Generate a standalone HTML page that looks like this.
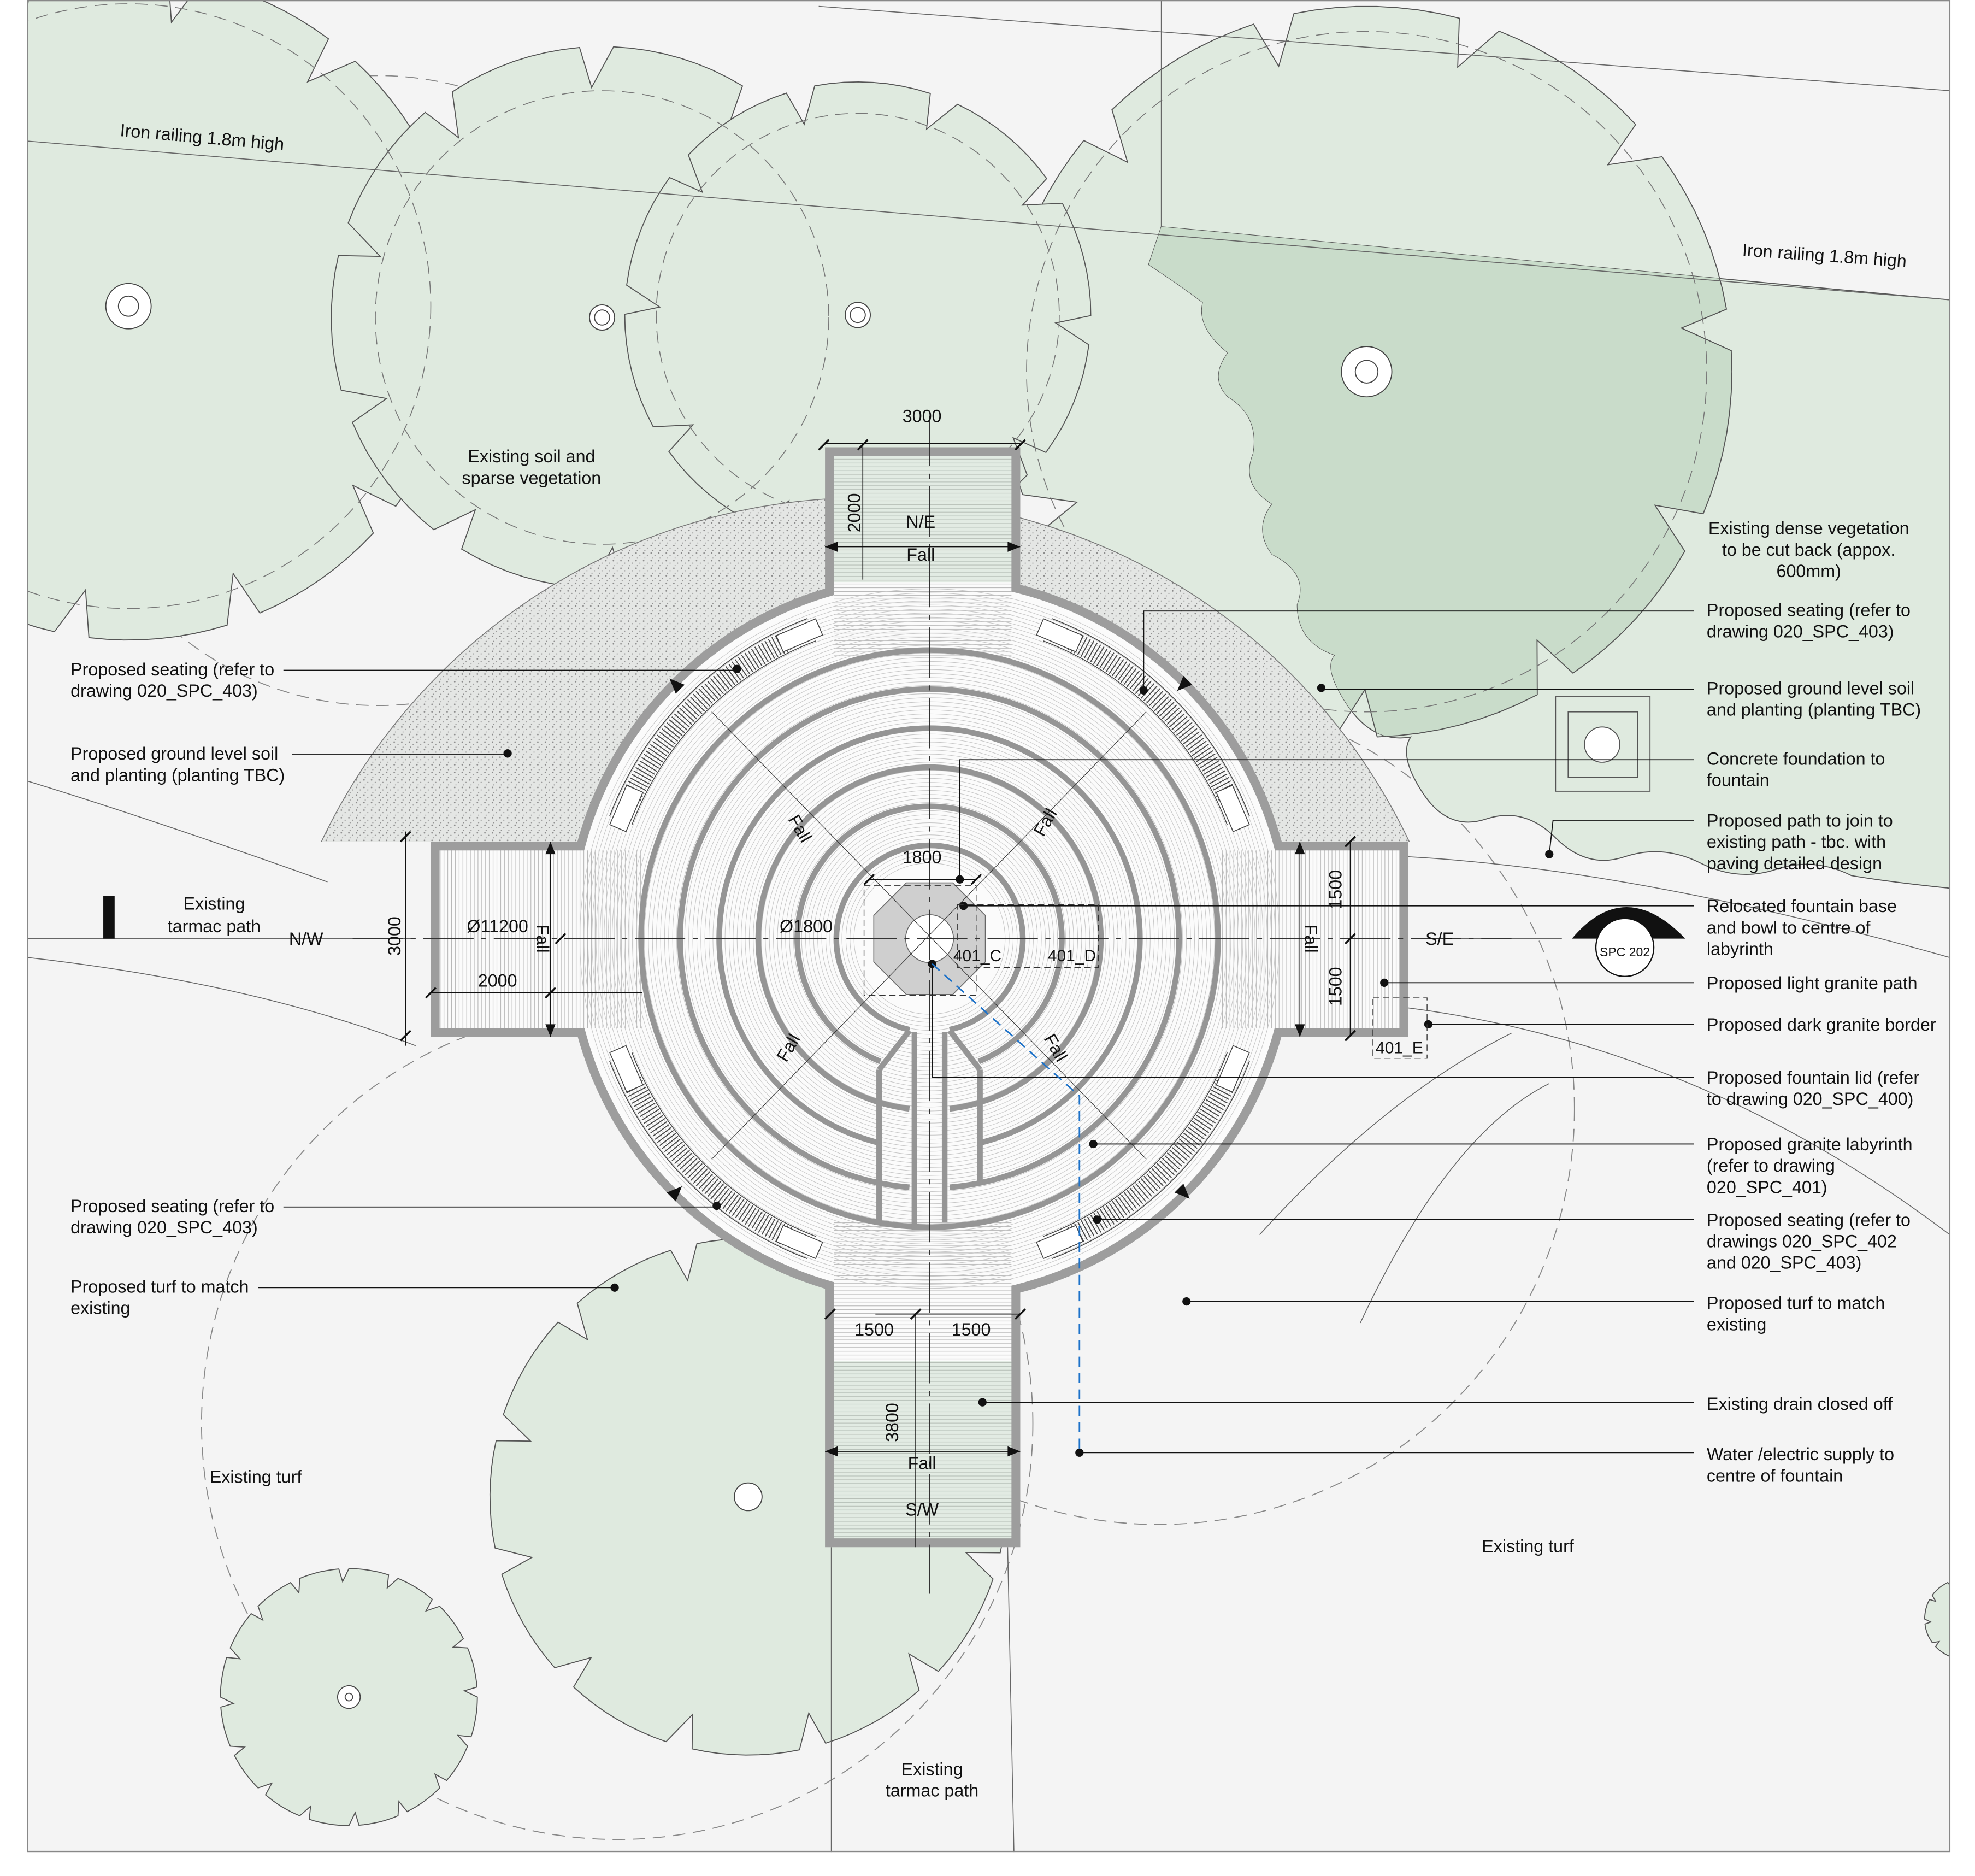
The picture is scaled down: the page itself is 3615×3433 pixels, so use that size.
<!DOCTYPE html>
<html><head><meta charset="utf-8">
<style>
html,body{margin:0;padding:0;background:#fff;}
svg{display:block;}
text{font-family:"Liberation Sans",Arial,sans-serif;font-size:14px;fill:#111;}
.c{text-anchor:middle;}
</style></head>
<body>
<svg id="s" width="3615" height="3433" viewBox="0 0 1568 1489" preserveAspectRatio="none" xmlns="http://www.w3.org/2000/svg">
<defs id="defs">
<pattern id="stip" width="6" height="6" patternUnits="userSpaceOnUse">
<rect width="6" height="6" fill="#e4e6e4"/>
<circle cx="1" cy="1" r="0.6" fill="#8a8a8a"/><circle cx="4" cy="3" r="0.5" fill="#999"/><circle cx="2" cy="5" r="0.45" fill="#8f8f8f"/>
</pattern>
<pattern id="hs" width="4" height="3" patternUnits="userSpaceOnUse">
<rect width="4" height="3" fill="#fbfbfb"/><line x1="0" y1="1.5" x2="4" y2="1.5" stroke="#b8b8b8" stroke-width="0.5"/>
</pattern>
<pattern id="vs" width="3" height="4" patternUnits="userSpaceOnUse">
<rect width="3" height="4" fill="#fbfbfb"/><line x1="1.5" y1="0" x2="1.5" y2="4" stroke="#b8b8b8" stroke-width="0.5"/>
</pattern>
<clipPath id="frame"><rect x="22" y="0" width="1526" height="1470"/></clipPath>
<clipPath id="top668"><rect x="0" y="0" width="1568" height="668"/></clipPath>
</defs>
<rect x="22" y="0" width="1526" height="1470" fill="#f4f4f4"/>
<g id="trees" clip-path="url(#frame)"></g>
<g id="lab"></g>
<g id="anno" stroke="#111" stroke-width="0.8" fill="none"></g>
<rect x="22" y="0.5" width="1526" height="1469" fill="none" stroke="#888" stroke-width="1"/>

<text x="95" y="108" transform="rotate(5 95 108)">Iron railing 1.8m high</text>
<text x="1383" y="203" transform="rotate(4 1383 203)">Iron railing 1.8m high</text>
<text x="422" y="367" class="c">Existing soil and</text>
<text x="422" y="384" class="c">sparse vegetation</text>
<text x="1436" y="424" class="c">Existing dense vegetation</text>
<text x="1436" y="441" class="c">to be cut back (appox.</text>
<text x="1436" y="458" class="c">600mm)</text>

<text x="56" y="536">Proposed seating (refer to</text>
<text x="56" y="553">drawing 020_SPC_403)</text>
<text x="56" y="603">Proposed ground level soil</text>
<text x="56" y="620">and planting (planting TBC)</text>
<text x="170" y="722" class="c">Existing</text>
<text x="170" y="740" class="c">tarmac path</text>
<text x="56" y="962">Proposed seating (refer to</text>
<text x="56" y="979">drawing 020_SPC_403)</text>
<text x="56" y="1026">Proposed turf to match</text>
<text x="56" y="1043">existing</text>
<text x="203" y="1177" class="c">Existing turf</text>
<text x="740" y="1409" class="c">Existing</text>
<text x="740" y="1426" class="c">tarmac path</text>
<text x="1213" y="1232" class="c">Existing turf</text>

<text x="1355" y="489">Proposed seating (refer to</text>
<text x="1355" y="506">drawing 020_SPC_403)</text>
<text x="1355" y="551">Proposed ground level soil</text>
<text x="1355" y="568">and planting (planting TBC)</text>
<text x="1355" y="607">Concrete foundation to</text>
<text x="1355" y="624">fountain</text>
<text x="1355" y="656">Proposed path to join to</text>
<text x="1355" y="673">existing path - tbc. with</text>
<text x="1355" y="690">paving detailed design</text>
<text x="1355" y="724">Relocated fountain base</text>
<text x="1355" y="741">and bowl to centre of</text>
<text x="1355" y="758">labyrinth</text>
<text x="1355" y="785">Proposed light granite path</text>
<text x="1355" y="818">Proposed dark granite border</text>
<text x="1355" y="860">Proposed fountain lid (refer</text>
<text x="1355" y="877">to drawing 020_SPC_400)</text>
<text x="1355" y="913">Proposed granite labyrinth</text>
<text x="1355" y="930">(refer to drawing</text>
<text x="1355" y="947">020_SPC_401)</text>
<text x="1355" y="973">Proposed seating (refer to</text>
<text x="1355" y="990">drawings 020_SPC_402</text>
<text x="1355" y="1007">and 020_SPC_403)</text>
<text x="1355" y="1039">Proposed turf to match</text>
<text x="1355" y="1056">existing</text>
<text x="1355" y="1119">Existing drain closed off</text>
<text x="1355" y="1159">Water /electric supply to</text>
<text x="1355" y="1176">centre of fountain</text>

<text x="732" y="335" class="c">3000</text>
<text x="683" y="407" class="c" transform="rotate(-90 683 407)">2000</text>
<text x="731" y="419" class="c">N/E</text>
<text x="731" y="445" class="c">Fall</text>
<text x="732" y="685" class="c">1800</text>
<text x="395" y="740" class="c">Ø11200</text>
<text x="640" y="740" class="c">Ø1800</text>
<text x="243" y="750" class="c">N/W</text>
<text x="318" y="743" class="c" transform="rotate(-90 318 743)">3000</text>
<text x="395" y="783" class="c">2000</text>
<text x="426" y="745" class="c" transform="rotate(90 426 745)">Fall</text>
<text x="776" y="763" class="c" style="font-size:13px">401_C</text>
<text x="851" y="763" class="c" style="font-size:13px">401_D</text>
<text x="1065" y="706" class="c" transform="rotate(-90 1065 706)">1500</text>
<text x="1065" y="783" class="c" transform="rotate(-90 1065 783)">1500</text>
<text x="1036" y="745" class="c" transform="rotate(90 1036 745)">Fall</text>
<text x="1143" y="750" class="c">S/E</text>
<text x="1111" y="836" class="c" style="font-size:13px">401_E</text>
<text x="1290" y="759" class="c" style="font-size:10px">SPC 202</text>
<text x="694" y="1060" class="c">1500</text>
<text x="771" y="1060" class="c">1500</text>
<text x="713" y="1129" class="c" transform="rotate(-90 713 1129)">3800</text>
<text x="732" y="1166" class="c">Fall</text>
<text x="732" y="1203" class="c">S/W</text>
<text x="631" y="660" class="c" transform="rotate(60 631 660)">Fall</text>
<text x="834" y="655" class="c" transform="rotate(-60 834 655)">Fall</text>
<text x="630" y="834" class="c" transform="rotate(-60 630 834)">Fall</text>
<text x="834" y="834" class="c" transform="rotate(60 834 834)">Fall</text>
</svg>
<script>
(function(){
var NS="http://www.w3.org/2000/svg";
function el(p,t,a){var e=document.createElementNS(NS,t);for(var k in a)e.setAttribute(k,a[k]);p.appendChild(e);return e;}
var T=document.getElementById('trees'),L=document.getElementById('lab'),A=document.getElementById('anno'),D=document.getElementById('defs');
var cx=738,cy=745;
function treePath(x,y,r,n,rot,d){var s=2*Math.PI/n,p=[];for(var i=0;i<n;i++){var a0=rot+i*s;for(var j=0;j<=8;j++){var a=a0+0.8*s*j/8;var rr=r*(1-0.04*Math.sin(Math.PI*j/8)*0);p.push([x+rr*Math.cos(a),y+rr*Math.sin(a)]);}var an=a0+0.86*s;p.push([x+r*(1-d)*Math.cos(an),y+r*(1-d)*Math.sin(an)]);}
return 'M'+p.map(function(q){return q[0].toFixed(1)+','+q[1].toFixed(1)}).join('L')+'Z';}
var tf='#dfeadf',ts='#555';
[[490,1130,330],[920,880,330],[300,310,250]].forEach(function(c){el(T,'circle',{cx:c[0],cy:c[1],r:c[2],fill:'none',stroke:'#888','stroke-width':0.8,'stroke-dasharray':'10 6'});});
var t4=treePath(1085,295,290,11,-1.2,0.13);
el(T,'path',{d:t4,fill:tf,stroke:ts,'stroke-width':0.8});
var scal='M922,180 L1548,238 L1548,705 Q1500,700 1470,695 Q1440,680 1410,690 Q1380,700 1350,685 Q1320,670 1290,680 Q1260,690 1235,665 Q1210,640 1180,650 Q1150,660 1130,630 Q1110,600 1120,585 Q1090,590 1070,560 Q1050,530 1060,520 Q1030,510 1030,480 Q1040,455 1010,440 Q995,420 1010,400 Q985,385 995,360 Q1000,330 975,315 Q960,300 975,280 Q950,260 955,240 Q935,225 912,210 Z';
el(T,'path',{d:scal,fill:tf,stroke:ts,'stroke-width':0.8});
var cp=el(D,'clipPath',{id:'scal'});el(cp,'path',{d:scal});
el(T,'path',{d:t4,fill:'#c9dcca',stroke:ts,'stroke-width':0.8,'clip-path':'url(#scal)'});
el(T,'path',{d:treePath(102,243,265,12,-0.3,0.14),fill:tf,stroke:ts,'stroke-width':0.8});
el(T,'path',{d:treePath(478,252,215,10,-0.9,0.15),fill:tf,stroke:ts,'stroke-width':0.8});
el(T,'path',{d:treePath(681,250,185,10,-0.5,0.15),fill:tf,stroke:ts,'stroke-width':0.8});
el(T,'path',{d:treePath(594,1188,205,12,-0.2,0.13),fill:tf,stroke:ts,'stroke-width':0.8});
el(T,'path',{d:treePath(277,1347,102,16,0,0.1),fill:tf,stroke:ts,'stroke-width':0.8});
el(T,'path',{d:treePath(1560,1285,32,10,0,0.15),fill:tf,stroke:ts,'stroke-width':0.8});
[[478,252,180],[681,250,160],[102,243,240],[1085,295,270]].forEach(function(c){el(T,'circle',{cx:c[0],cy:c[1],r:c[2],fill:'none',stroke:'#777','stroke-width':0.7,'stroke-dasharray':'10 6'});});
[[102,243,18,8],[478,252,10,6],[681,250,10,6],[1085,295,20,9],[594,1188,11,0],[277,1347,9,3]].forEach(function(c){el(T,'circle',{cx:c[0],cy:c[1],r:c[2],fill:'#fff',stroke:'#444','stroke-width':0.8});if(c[3])el(T,'circle',{cx:c[0],cy:c[1],r:c[3],fill:'#fff',stroke:'#444','stroke-width':0.8});});
[['M22,112 L1548,238'],['M650,5 L1548,72'],['M922,0 L922,180'],['M22,620 Q120,650 260,700'],['M22,760 Q200,780 330,830'],['M1118,680 Q1300,690 1548,760'],['M1118,800 Q1350,830 1548,980'],['M660,1228 L660,1470'],['M800,1228 L805,1470'],['M22,745 L330,745'],['M1120,745 L1240,745'],['M1000,980 Q1100,870 1200,820'],['M1080,1050 Q1150,900 1230,860']].forEach(function(d){el(T,'path',{d:d[0],fill:'none',stroke:'#666','stroke-width':0.7});});
el(T,'circle',{cx:687,cy:873,r:478,fill:'url(#stip)',stroke:'#777','stroke-width':0.7,'clip-path':'url(#top668)'});
el(T,'path',{d:'M1248,745 Q1290,695 1338,745 Z',fill:'#111'});
el(T,'circle',{cx:1290,cy:752,r:23,fill:'#fff',stroke:'#111','stroke-width':1});
el(T,'rect',{x:82,y:711,width:9,height:34,fill:'#111'});
el(T,'rect',{x:1235,y:553,width:75,height:75,fill:'none',stroke:'#555','stroke-width':0.8});
el(T,'rect',{x:1245,y:565,width:55,height:52,fill:'none',stroke:'#555','stroke-width':0.8});
el(T,'circle',{cx:1272,cy:591,r:14,fill:'#fff',stroke:'#555','stroke-width':0.8});

var g='#9d9d9d';
el(L,'circle',{cx:cx,cy:cy,r:290,fill:g});
el(L,'rect',{x:655,y:355,width:155,height:160,fill:g});
el(L,'rect',{x:655,y:975,width:155,height:253,fill:g});
el(L,'rect',{x:342,y:668,width:160,height:155,fill:g});
el(L,'rect',{x:975,y:668,width:143,height:155,fill:g});
el(L,'circle',{cx:cx,cy:cy,r:283,fill:'#fbfbfb'});
el(L,'rect',{x:662,y:362,width:141,height:160,fill:'url(#hs)'});
el(L,'rect',{x:662,y:968,width:141,height:253,fill:'url(#hs)'});
el(L,'rect',{x:349,y:675,width:160,height:141,fill:'url(#vs)'});
el(L,'rect',{x:968,y:675,width:143,height:141,fill:'url(#vs)'});
el(L,'rect',{x:662,y:362,width:141,height:100,fill:'#b5cdb7','fill-opacity':0.35});
el(L,'rect',{x:662,y:1080,width:141,height:141,fill:'#b5cdb7','fill-opacity':0.35});
for(var r=60;r<=280;r+=3.2){el(L,'circle',{cx:cx,cy:cy,r:r,fill:'none',stroke:'#c8c8c8','stroke-width':0.45});}
function arcPath(r,gap){var a0=Math.PI/2+gap/r,a1=Math.PI/2-gap/r+2*Math.PI;var x0=cx+r*Math.cos(a0),y0=cy+r*Math.sin(a0),x1=cx+r*Math.cos(a1),y1=cy+r*Math.sin(a1);return 'M'+x0+','+y0+' A'+r+','+r+' 0 1 1 '+x1+','+y1;}
var rings=[74,105,136,167,198,229];
rings.forEach(function(r,i){el(L,'path',{d:arcPath(r,i==5?3:(i%2?40:16)),fill:'none',stroke:'#959595','stroke-width':4.5});});
el(L,'path',{d:'M'+(cx-12)+','+(cy+74)+' L'+(cx-12)+','+(cy+229)+' L'+(cx+12)+','+(cy+229),fill:'none',stroke:'#959595','stroke-width':4.5});
el(L,'path',{d:'M'+(cx+12)+','+(cy+74)+' L'+(cx+12)+','+(cy+225),fill:'none',stroke:'#959595','stroke-width':4.5});
el(L,'path',{d:'M'+(cx-40)+','+(cy+104)+' L'+(cx-40)+','+(cy+225)+' M'+(cx+40)+','+(cy+104)+' L'+(cx+40)+','+(cy+195)+' M'+(cx-16)+','+(cy+73)+' L'+(cx-40)+','+(cy+104)+' M'+(cx+16)+','+(cy+73)+' L'+(cx+40)+','+(cy+104),fill:'none',stroke:'#959595','stroke-width':4.5});
var oc=[];for(var k=0;k<8;k++){var a=Math.PI/8+k*Math.PI/4;oc.push((cx+48*Math.cos(a)).toFixed(1)+','+(cy+48*Math.sin(a)).toFixed(1));}
el(L,'polygon',{points:oc.join(' '),fill:'#cfcfcf',stroke:'#666','stroke-width':0.7});
el(L,'circle',{cx:cx,cy:cy,r:19,fill:'#fff',stroke:'#666','stroke-width':0.7});
function arcSeg(r,a0,a1){var x0=cx+r*Math.cos(a0),y0=cy+r*Math.sin(a0),x1=cx+r*Math.cos(a1),y1=cy+r*Math.sin(a1);return 'M'+x0.toFixed(1)+','+y0.toFixed(1)+' A'+r+','+r+' 0 0 1 '+x1.toFixed(1)+','+y1.toFixed(1);}
[-135,-45,45,135].forEach(function(dg){var c=dg*Math.PI/180,h=0.42;
el(L,'path',{d:arcSeg(262,c-h+0.08,c+h-0.08),fill:'none',stroke:'#444','stroke-width':16,'stroke-dasharray':'0.8 2.2'});
el(L,'path',{d:arcSeg(253,c-h,c+h),fill:'none',stroke:'#444','stroke-width':0.7});
el(L,'path',{d:arcSeg(272,c-h,c+h),fill:'none',stroke:'#444','stroke-width':0.7});
[c-h+0.04,c+h-0.04].forEach(function(e){var rr=262;var x=cx+rr*Math.cos(e),y=cy+rr*Math.sin(e);el(L,'rect',{x:x-7,y:y-17,width:14,height:34,fill:'#fff',stroke:'#444','stroke-width':0.7,transform:'rotate('+(e*180/Math.PI)+' '+x+' '+y+')'});});
});
// fall arrowheads on outer ring
[-135,-45,45,135].forEach(function(dg){var e=dg*Math.PI/180;var x=cx+285*Math.cos(e),y=cy+285*Math.sin(e);var rot=dg+(dg<0?-90:90);
el(L,'path',{d:'M0,-7 L-5,5 L5,5 Z',fill:'#111',transform:'translate('+x+' '+y+') rotate('+(dg+90+(dg==-135||dg==45?0:180))+')'});});

function ln(d,w,col,da){var o={d:d,'stroke-width':w||0.8};if(col)o.stroke=col;if(da)o['stroke-dasharray']=da;el(A,'path',o);}
function dot(x,y){el(A,'circle',{cx:x,cy:y,r:3.3,fill:'#111',stroke:'none'});}
ln('M225,532 L585,532');dot(585,531);
ln('M232,599 L403,599');dot(403,598);
ln('M225,958 L569,958');dot(569,957);
ln('M205,1022 L488,1022');dot(488,1022);
ln('M1345,485 L908,485 L908,548');dot(908,548);
ln('M1345,547 L1049,547');dot(1049,546);
ln('M1345,603 L762,603 L762,698');dot(762,698);
ln('M1345,651 L1233,651 L1230,678');dot(1230,678);
ln('M1345,719 L765,719');dot(765,719);
ln('M1345,780 L1099,780');dot(1099,780);
ln('M1345,813 L1134,813');dot(1134,813);
ln('M1345,855 L740,855 L740,765');dot(740,765);
ln('M1345,908 L868,908');dot(868,908);
ln('M1345,968 L871,968');dot(871,968);
ln('M1345,1033 L942,1033');dot(942,1033);
ln('M1345,1113 L780,1113');dot(780,1113);
ln('M1345,1153 L857,1153');dot(857,1153);
ln('M740,765 L857,870 L857,1153',1.2,'#1d72c9','8 5');
ln('M'+cx+',330 L'+cx+',1265',0.6,'#333','40 6 4 6');
ln('M280,'+cy+' L1200,'+cy,0.6,'#333','40 6 4 6');
ln('M565,565 L910,920 M910,565 L565,920',0.5,'#333');
ln('M655,352 L810,352 M655,434 L810,434 M655,1152 L810,1152 M685,352 L685,460 M437,668 L437,823 M1032,668 L1032,823 M342,788 L510,788 M690,698 L775,698 M695,1043 L810,1043 M727,1043 L727,1228',0.7);
ln('M322,660 L322,830 M1072,668 L1072,823',0.7);
ln('M650,357 l8,-8 M806,357 l8,-8 M681,357 l8,-8 M318,668 l8,-8 M318,826 l8,-8 M1068,672 l8,-8 M1068,749 l8,-8 M1068,826 l8,-8 M686,702 l8,-8 M771,702 l8,-8 M723,1047 l8,-8 M806,1047 l8,-8 M655,1047 l8,-8 M338,792 l8,-8 M433,792 l8,-8 M441,749 l8,-8',1.5);
[[655,434,1],[810,434,-1],[655,1152,1],[810,1152,-1]].forEach(function(a){el(A,'path',{d:'M'+a[0]+','+a[1]+' l'+(a[2]*10)+',-4 l0,8 Z',fill:'#111',stroke:'none'});});
[[437,668,1],[437,823,-1],[1032,668,1],[1032,823,-1]].forEach(function(a){el(A,'path',{d:'M'+a[0]+','+a[1]+' l-4,'+(a[2]*10)+' l8,0 Z',fill:'#111',stroke:'none'});});
ln('M686,703 L775,703 L775,790 L686,790 Z',0.6,'#333','5 3');
ln('M760,718 L872,718 L872,768 L760,768 Z',0.6,'#333','5 3');
ln('M1090,792 L1133,792 L1133,840 L1090,840 Z',0.6,'#333','5 3');
})();
</script>
</body></html>
